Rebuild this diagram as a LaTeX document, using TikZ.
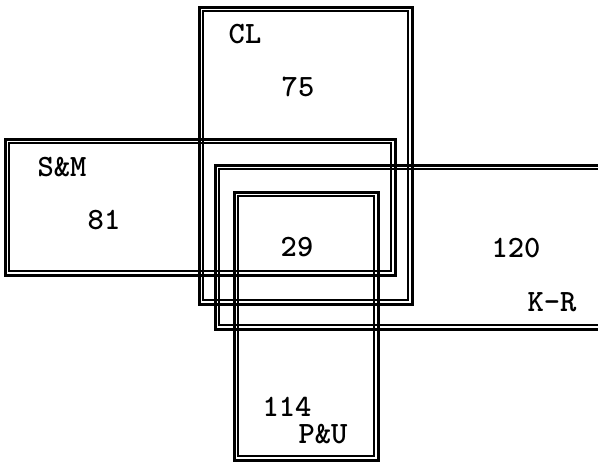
\documentclass[tikz,border=0pt]{standalone}
\usepackage{tikz}
\usepackage{xcolor}

\begin{document}
\begin{tikzpicture}[
  x=1pt, y=-1pt,
  setbox/.style={draw, line width=3pt, inner sep=0pt, outer sep=0pt},
  innerline/.style={line width=1.6pt},
  lbl/.style={font=\ttfamily\bfseries\fontsize{31}{33}\selectfont, inner sep=0pt},
]
  \useasboundingbox (0,0) rectangle (598,463);
  \fill[white] (0,0) rectangle (598,463);
  \clip (0,0) rectangle (598,463);

  % Sets
  \node[setbox, minimum width=213pt, minimum height=297pt] (cl) at (305.5,155.5) {};
  \node[setbox, minimum width=390pt, minimum height=136pt] (sm) at (200,207) {};
  \node[setbox, minimum width=425pt, minimum height=164pt] (kr) at (427.5,247) {};
  \node[setbox, minimum width=144pt, minimum height=268pt] (pu) at (306,326) {};

  % Inner line of each frame
  \foreach \n in {cl,sm,kr,pu}
    \draw[innerline] ([shift={(3.8,3.8)}]\n.north west) rectangle ([shift={(-3.8,-3.8)}]\n.south east);

  % Names
  \node[lbl] (clname) at (245,34) {CL};
  \node[lbl] (smname) at (62,167) {S\&M};
  \node[lbl] (krname) at (552,302) {K-R};
  \node[lbl] (puname) at (323,434) {P\&U};

  % Counts
  \node[lbl] (clcount) at (298,87) {75};
  \node[lbl] (smcount) at (104,220) {81};
  \node[lbl] (allcount) at (297,247) {29};
  \node[lbl] (krcount) at (516,248) {120};
  \node[lbl] (pucount) at (287,407) {114};
\end{tikzpicture}
\end{document}
